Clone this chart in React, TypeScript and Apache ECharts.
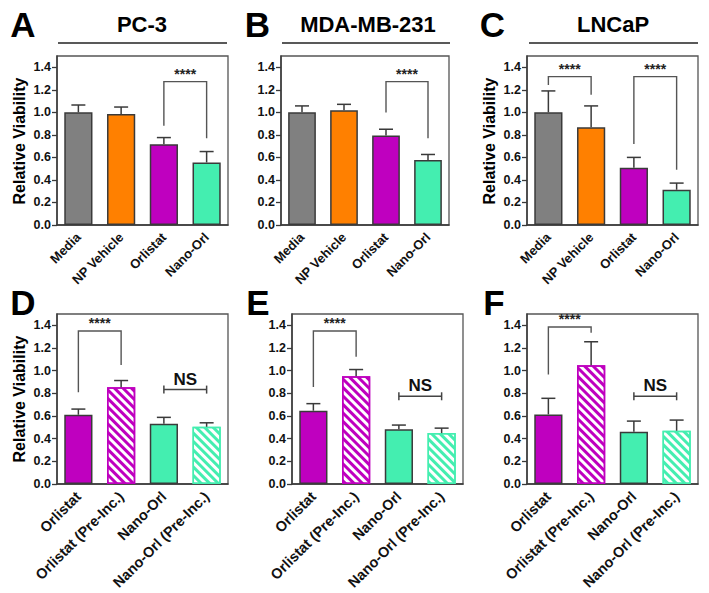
import React, { useEffect, useRef } from 'react';
import * as echarts from 'echarts';

// ---------- data ----------
const topCategories = ['Media', 'NP Vehicle', 'Orlistat', 'Nano-Orl'];
const bottomCategories = ['Orlistat', 'Orlistat (Pre-Inc.)', 'Nano-Orl', 'Nano-Orl (Pre-Inc.)'];
const yTickValues = [0, 0.2, 0.4, 0.6, 0.8, 1.0, 1.2, 1.4];
const yMax = 1.5;

const pc3Mean = [1.0, 0.985, 0.717, 0.555];
const pc3ErrTop = [1.065, 1.047, 0.776, 0.652];
const mdaMean = [1.0, 1.018, 0.794, 0.576];
const mdaErrTop = [1.057, 1.071, 0.85, 0.626];
const lncapMean = [1.0, 0.868, 0.508, 0.313];
const lncapErrTop = [1.19, 1.057, 0.6, 0.372];
const pc3PreMean = [0.611, 0.853, 0.532, 0.505];
const pc3PreErrTop = [0.661, 0.913, 0.588, 0.54];
const mdaPreMean = [0.647, 0.951, 0.484, 0.449];
const mdaPreErrTop = [0.709, 1.01, 0.52, 0.493];
const lncapPreMean = [0.614, 1.048, 0.46, 0.47];
const lncapPreErrTop = [0.756, 1.255, 0.555, 0.564];

// significance brackets: [fromCat, toCat, leftLegEnd, top, rightLegEnd]
const sigA = [[2, 3, 0.88, 1.273, 0.77]];
const sigB = [[2, 3, 0.998, 1.273, 0.77]];
const sigC = [[0, 1, 1.243, 1.317, 1.155], [2, 3, 0.72, 1.317, 0.49]];
const sigD = [[0, 1, 0.81, 1.35, 1.05]];
const sigE = [[0, 1, 0.856, 1.35, 1.122]];
const sigF = [[0, 1, 0.966, 1.385, 1.335]];
// NS brackets: [fromCat, toCat, level]
const nsD = [[2, 3, 0.833]];
const nsE = [[2, 3, 0.774]];
const nsF = [[2, 3, 0.774]];

const panelLetters = ['A', 'B', 'C', 'D', 'E', 'F'];
const panelTitles = ['PC-3', 'MDA-MB-231', 'LNCaP'];
const yAxisTitle = 'Relative Viability';

// ---------- styles ----------
const FONT = '"Liberation Sans", Arial, Helvetica, sans-serif';
const GRAY = '#808080';
const ORANGE = '#FF8000';
const MAGENTA = '#BF00BF';
const TEAL = '#44EEB0';
const EDGE = '#3a3a3a';

type Fill = { color: string; hatch: boolean };
const topFills: Fill[] = [
  { color: GRAY, hatch: false },
  { color: ORANGE, hatch: false },
  { color: MAGENTA, hatch: false },
  { color: TEAL, hatch: false },
];
const bottomFills: Fill[] = [
  { color: MAGENTA, hatch: false },
  { color: MAGENTA, hatch: true },
  { color: TEAL, hatch: false },
  { color: TEAL, hatch: true },
];

const panels = [
  { cats: topCategories, labelSize: 13, mean: pc3Mean, err: pc3ErrTop, sig: sigA, ns: [], fills: topFills, grid: { left: 57, top: 56, width: 171, height: 169 } },
  { cats: topCategories, labelSize: 13, mean: mdaMean, err: mdaErrTop, sig: sigB, ns: [], fills: topFills, grid: { left: 281, top: 56, width: 168, height: 169 } },
  { cats: topCategories, labelSize: 13, mean: lncapMean, err: lncapErrTop, sig: sigC, ns: [], fills: topFills, grid: { left: 527, top: 56, width: 171, height: 169 } },
  { cats: bottomCategories, labelSize: 14.5, mean: pc3PreMean, err: pc3PreErrTop, sig: sigD, ns: nsD, fills: bottomFills, grid: { left: 57, top: 314, width: 171, height: 170 } },
  { cats: bottomCategories, labelSize: 14.5, mean: mdaPreMean, err: mdaPreErrTop, sig: sigE, ns: nsE, fills: bottomFills, grid: { left: 292, top: 314, width: 171, height: 170 } },
  { cats: bottomCategories, labelSize: 14.5, mean: lncapPreMean, err: lncapPreErrTop, sig: sigF, ns: nsF, fills: bottomFills, grid: { left: 527, top: 314, width: 171, height: 170 } },
];

const letterPos = [
  [23, 24.5], [257.5, 24.5], [492.5, 24.5],
  [23, 302.5], [258, 302.5], [494, 302.5],
];
const titlePos = [[142, 24.5], [368, 24.5], [613, 24.5]];
const titleLines = [[58, 227], [282, 450], [529, 698]];
const yTitlePos = [[19, 141], [489, 141], [19, 399]];

function buildOption() {
  const grids: any[] = [];
  const xAxes: any[] = [];
  const yAxes: any[] = [];
  const series: any[] = [];

  panels.forEach((p, i) => {
    grids.push({
      ...p.grid,
      show: true,
      borderColor: '#555',
      borderWidth: 1.3,
      backgroundColor: 'transparent',
      containLabel: false,
    });
    xAxes.push({
      type: 'category',
      gridIndex: i,
      data: p.cats,
      axisLine: { lineStyle: { color: EDGE, width: 1.5 } },
      axisTick: { alignWithLabel: true, length: 5, lineStyle: { color: EDGE, width: 1.3 } },
      axisLabel: {
        rotate: 45,
        interval: 0,
        margin: 10,
        fontFamily: FONT,
        fontWeight: 'bold',
        fontSize: p.labelSize,
        color: '#111',
      },
    });
    yAxes.push({
      type: 'value',
      gridIndex: i,
      min: 0,
      max: yMax,
      splitLine: { show: false },
      axisLine: { show: true, lineStyle: { color: EDGE, width: 1.5 } },
      axisTick: { show: true, length: 5, customValues: yTickValues, lineStyle: { color: EDGE, width: 1.3 } },
      axisLabel: {
        customValues: yTickValues,
        formatter: (v: number) => v.toFixed(1),
        margin: 6,
        fontFamily: FONT,
        fontWeight: 'bold',
        fontSize: 12.5,
        color: '#111',
      },
    });

    series.push({
      type: 'bar',
      xAxisIndex: i,
      yAxisIndex: i,
      barWidth: '66%',
      z: 2,
      data: p.mean.map((v, k) => {
        const f = p.fills[k];
        return {
          value: v,
          itemStyle: f.hatch
            ? {
                color: '#ffffff',
                borderColor: f.color,
                borderWidth: 1.5,
                decal: {
                  symbol: 'rect',
                  symbolSize: 1,
                  color: f.color,
                  backgroundColor: '#ffffff',
                  dashArrayX: [1, 0],
                  dashArrayY: [2.2, 2.2],
                  rotation: Math.PI / 4,
                },
              }
            : { color: f.color, borderColor: EDGE, borderWidth: 1.5 },
        };
      }),
    });

    series.push({
      type: 'custom',
      xAxisIndex: i,
      yAxisIndex: i,
      z: 3,
      clip: false,
      encode: { x: 0, y: [1, 2] },
      data: p.mean.map((v, k) => [k, v, p.err[k]]),
      renderItem: (params: any, api: any) => {
        const x = api.value(0);
        const p0 = api.coord([x, api.value(1)]);
        const p1 = api.coord([x, api.value(2)]);
        const cap = 7;
        const st = { stroke: EDGE, lineWidth: 1.5 };
        return {
          type: 'group',
          children: [
            { type: 'line', shape: { x1: p0[0], y1: p0[1], x2: p1[0], y2: p1[1] }, style: st },
            { type: 'line', shape: { x1: p1[0] - cap, y1: p1[1], x2: p1[0] + cap, y2: p1[1] }, style: st },
          ],
        };
      },
    });

    if (p.sig.length) {
      series.push({
        type: 'custom',
        xAxisIndex: i,
        yAxisIndex: i,
        z: 4,
        clip: false,
        encode: { x: [0, 1], y: [2, 3, 4] },
        data: p.sig,
        renderItem: (params: any, api: any) => {
          const a = api.value(0);
          const b = api.value(1);
          const l = api.coord([a, api.value(2)]);
          const tl = api.coord([a, api.value(3)]);
          const tr = api.coord([b, api.value(3)]);
          const r = api.coord([b, api.value(4)]);
          return {
            type: 'group',
            children: [
              {
                type: 'polyline',
                shape: { points: [l, tl, tr, r] },
                style: { stroke: '#555', lineWidth: 1.4, fill: null },
              },
              {
                type: 'text',
                x: (tl[0] + tr[0]) / 2,
                y: tl[1] - 1,
                style: {
                  text: '****',
                  align: 'center',
                  verticalAlign: 'bottom',
                  font: `bold 14px ${FONT}`,
                  fill: '#222',
                },
              },
            ],
          };
        },
      });
    }

    if (p.ns.length) {
      series.push({
        type: 'custom',
        xAxisIndex: i,
        yAxisIndex: i,
        z: 4,
        clip: false,
        encode: { x: [0, 1], y: 2 },
        data: p.ns,
        renderItem: (params: any, api: any) => {
          const a = api.coord([api.value(0), api.value(2)]);
          const b = api.coord([api.value(1), api.value(2)]);
          const st = { stroke: '#444', lineWidth: 1.5 };
          const h = 4;
          return {
            type: 'group',
            children: [
              { type: 'line', shape: { x1: a[0], y1: a[1], x2: b[0], y2: b[1] }, style: st },
              { type: 'line', shape: { x1: a[0], y1: a[1] - h, x2: a[0], y2: a[1] + h }, style: st },
              { type: 'line', shape: { x1: b[0], y1: b[1] - h, x2: b[0], y2: b[1] + h }, style: st },
              {
                type: 'text',
                x: (a[0] + b[0]) / 2,
                y: a[1] - 2,
                style: {
                  text: 'NS',
                  align: 'center',
                  verticalAlign: 'bottom',
                  font: `bold 17px ${FONT}`,
                  fill: '#111',
                },
              },
            ],
          };
        },
      });
    }
  });

  const graphics: any[] = [];
  panelLetters.forEach((t, i) => {
    graphics.push({
      type: 'text',
      x: letterPos[i][0],
      y: letterPos[i][1],
      style: { text: t, align: 'center', verticalAlign: 'middle', font: `bold 35px ${FONT}`, fill: '#000' },
    });
  });
  panelTitles.forEach((t, i) => {
    graphics.push({
      type: 'text',
      x: titlePos[i][0],
      y: titlePos[i][1],
      style: { text: t, align: 'center', verticalAlign: 'middle', font: `bold 22px ${FONT}`, fill: '#000' },
    });
    graphics.push({
      type: 'line',
      shape: { x1: titleLines[i][0], y1: 43, x2: titleLines[i][1], y2: 43 },
      style: { stroke: '#222', lineWidth: 1.3 },
    });
  });
  yTitlePos.forEach((pos) => {
    graphics.push({
      type: 'text',
      x: pos[0],
      y: pos[1],
      rotation: Math.PI / 2,
      style: { text: yAxisTitle, align: 'center', verticalAlign: 'middle', font: `bold 16px ${FONT}`, fill: '#000' },
    });
  });

  return {
    animation: false,
    backgroundColor: '#ffffff',
    grid: grids,
    xAxis: xAxes,
    yAxis: yAxes,
    series,
    graphic: graphics,
  };
}

export default function App() {
  const ref = useRef<HTMLDivElement>(null);
  useEffect(() => {
    if (!ref.current) return;
    const chart = echarts.init(ref.current, null, { renderer: 'svg' });
    chart.setOption(buildOption() as any);
    return () => chart.dispose();
  }, []);
  return (
    <div
      ref={ref}
      style={{ position: 'fixed', left: 0, top: 0, width: 709, height: 593, background: '#fff' }}
    />
  );
}
